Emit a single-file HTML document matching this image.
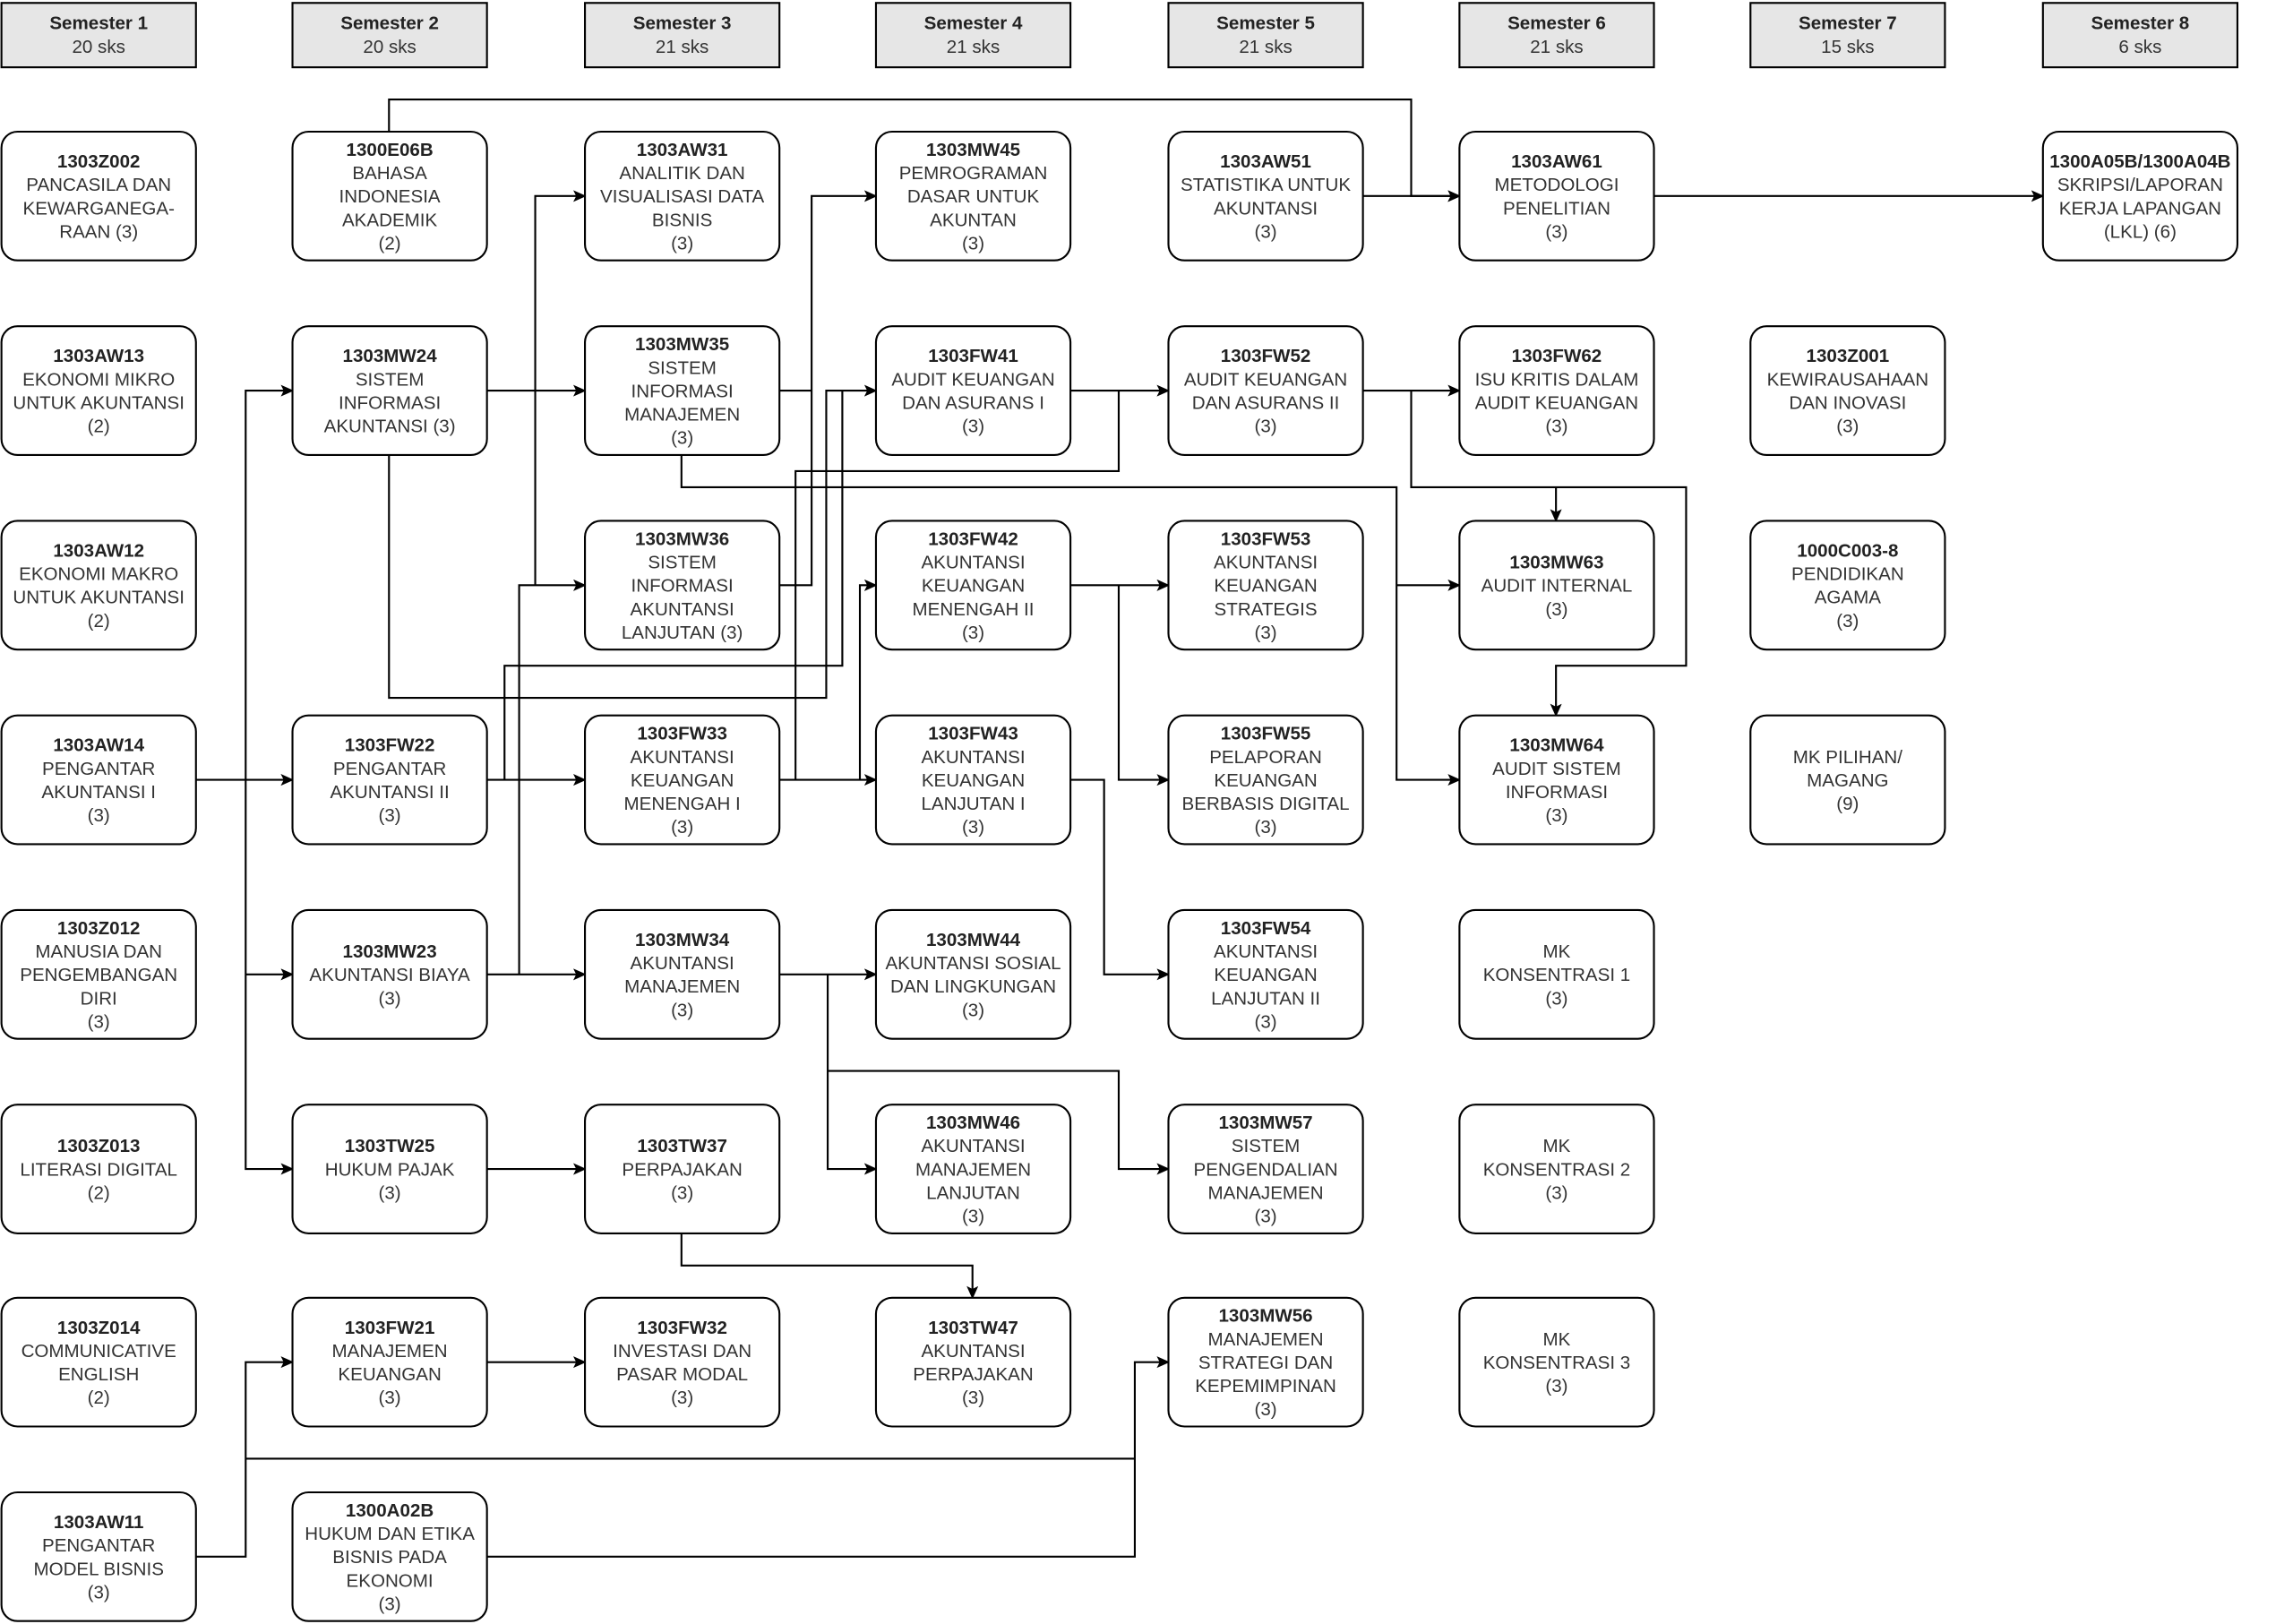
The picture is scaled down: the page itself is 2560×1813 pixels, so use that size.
<!DOCTYPE html>
<html><head><meta charset="utf-8"><style>
html,body{margin:0;padding:0;background:#fff}
svg{display:block}
text{font-family:"Liberation Sans",sans-serif;font-size:12.6px;fill:#333;text-anchor:middle}
.b{font-weight:bold;fill:#222}
.n{fill:#fff;stroke:#000;stroke-width:1.3}
.h{fill:#e6e6e6;stroke:#000;stroke-width:1.3}
.c{fill:none;stroke:#000;stroke-width:1.3}
</style></head><body>
<svg width="2560" height="1813" viewBox="0 0 1568 1110" preserveAspectRatio="none" xmlns="http://www.w3.org/2000/svg">
<defs><marker id="a" markerWidth="10" markerHeight="10" refX="8" refY="4" orient="auto" markerUnits="userSpaceOnUse"><path d="M0,0 L9,4 L0,8 L2,4 z" fill="#000"/></marker></defs>

<!-- headers -->
<g>
<rect class="h" x="1" y="2" width="133" height="44"/><text x="67.5" y="20" class="b">Semester 1</text><text x="67.5" y="36">20 sks</text>
<rect class="h" x="200" y="2" width="133" height="44"/><text x="266.5" y="20" class="b">Semester 2</text><text x="266.5" y="36">20 sks</text>
<rect class="h" x="400" y="2" width="133" height="44"/><text x="466.5" y="20" class="b">Semester 3</text><text x="466.5" y="36">21 sks</text>
<rect class="h" x="599" y="2" width="133" height="44"/><text x="665.5" y="20" class="b">Semester 4</text><text x="665.5" y="36">21 sks</text>
<rect class="h" x="799" y="2" width="133" height="44"/><text x="865.5" y="20" class="b">Semester 5</text><text x="865.5" y="36">21 sks</text>
<rect class="h" x="998" y="2" width="133" height="44"/><text x="1064.5" y="20" class="b">Semester 6</text><text x="1064.5" y="36">21 sks</text>
<rect class="h" x="1197" y="2" width="133" height="44"/><text x="1263.5" y="20" class="b">Semester 7</text><text x="1263.5" y="36">15 sks</text>
<rect class="h" x="1397" y="2" width="133" height="44"/><text x="1463.5" y="20" class="b">Semester 8</text><text x="1463.5" y="36">6 sks</text>
</g>

<!-- connectors -->
<g class="c">
<polyline points="266,90 266,68 965,68 965,134 998,134" marker-end="url(#a)"/>
<polyline points="932,134 998,134" marker-end="url(#a)"/>
<polyline points="1131,134 1397,134" marker-end="url(#a)"/>
<polyline points="134,533 200,533" marker-end="url(#a)"/>
<polyline points="168,533 168,267 200,267" marker-end="url(#a)"/>
<polyline points="168,533 168,799 200,799" marker-end="url(#a)"/>
<polyline points="168,666 200,666" marker-end="url(#a)"/>
<polyline points="333,267 400,267" marker-end="url(#a)"/>
<polyline points="266,311 266,477 565,477 565,267 599,267" marker-end="url(#a)"/>
<polyline points="333,533 400,533" marker-end="url(#a)"/>
<polyline points="345,533 345,455 576,455 576,267"/>
<polyline points="333,666 400,666" marker-end="url(#a)"/>
<polyline points="355,666 355,400 400,400" marker-end="url(#a)"/>
<polyline points="366,400 366,134 400,134" marker-end="url(#a)"/>
<polyline points="533,267 555,267"/>
<polyline points="533,400 555,400 555,134 599,134" marker-end="url(#a)"/>
<polyline points="466,311 466,333 955,333 955,533 998,533" marker-end="url(#a)"/>
<polyline points="955,400 998,400" marker-end="url(#a)"/>
<polyline points="533,533 599,533" marker-end="url(#a)"/>
<polyline points="544,533 544,322 765,322 765,267"/>
<polyline points="588,533 588,400 599,400" marker-end="url(#a)"/>
<polyline points="732,267 799,267" marker-end="url(#a)"/>
<polyline points="732,400 799,400" marker-end="url(#a)"/>
<polyline points="765,400 765,533 799,533" marker-end="url(#a)"/>
<polyline points="732,533 755,533 755,666 799,666" marker-end="url(#a)"/>
<polyline points="932,267 998,267" marker-end="url(#a)"/>
<polyline points="965,267 965,333 1153,333 1153,455 1064,455 1064,489" marker-end="url(#a)"/>
<polyline points="1064,333 1064,356" marker-end="url(#a)"/>
<polyline points="533,666 599,666" marker-end="url(#a)"/>
<polyline points="566,666 566,799 599,799" marker-end="url(#a)"/>
<polyline points="566,732 765,732 765,799 799,799" marker-end="url(#a)"/>
<polyline points="333,799 400,799" marker-end="url(#a)"/>
<polyline points="466,843 466,865 665,865 665,887" marker-end="url(#a)"/>
<polyline points="333,931 400,931" marker-end="url(#a)"/>
<polyline points="134,1064 168,1064 168,931 200,931" marker-end="url(#a)"/>
<polyline points="168,997 776,997 776,931 799,931" marker-end="url(#a)"/>
<polyline points="333,1064 776,1064 776,997"/>
</g>

<!-- nodes -->
<g>
<!-- col 1 -->
<rect class="n" x="1" y="90" width="133" height="88" rx="11"/><text x="67.5" y="114.5"><tspan class="b">1303Z002</tspan><tspan x="67.5" dy="16">PANCASILA DAN</tspan><tspan x="67.5" dy="16">KEWARGANEGA-</tspan><tspan x="67.5" dy="16">RAAN (3)</tspan></text>
<rect class="n" x="1" y="223" width="133" height="88" rx="11"/><text x="67.5" y="247.5"><tspan class="b">1303AW13</tspan><tspan x="67.5" dy="16">EKONOMI MIKRO</tspan><tspan x="67.5" dy="16">UNTUK AKUNTANSI</tspan><tspan x="67.5" dy="16">(2)</tspan></text>
<rect class="n" x="1" y="356" width="133" height="88" rx="11"/><text x="67.5" y="380.5"><tspan class="b">1303AW12</tspan><tspan x="67.5" dy="16">EKONOMI MAKRO</tspan><tspan x="67.5" dy="16">UNTUK AKUNTANSI</tspan><tspan x="67.5" dy="16">(2)</tspan></text>
<rect class="n" x="1" y="489" width="133" height="88" rx="11"/><text x="67.5" y="513.5"><tspan class="b">1303AW14</tspan><tspan x="67.5" dy="16">PENGANTAR</tspan><tspan x="67.5" dy="16">AKUNTANSI I</tspan><tspan x="67.5" dy="16">(3)</tspan></text>
<rect class="n" x="1" y="622" width="133" height="88" rx="11"/><text x="67.5" y="638.5"><tspan class="b">1303Z012</tspan><tspan x="67.5" dy="16">MANUSIA DAN</tspan><tspan x="67.5" dy="16">PENGEMBANGAN</tspan><tspan x="67.5" dy="16">DIRI</tspan><tspan x="67.5" dy="16">(3)</tspan></text>
<rect class="n" x="1" y="755" width="133" height="88" rx="11"/><text x="67.5" y="787.5"><tspan class="b">1303Z013</tspan><tspan x="67.5" dy="16">LITERASI DIGITAL</tspan><tspan x="67.5" dy="16">(2)</tspan></text>
<rect class="n" x="1" y="887" width="133" height="88" rx="11"/><text x="67.5" y="911.5"><tspan class="b">1303Z014</tspan><tspan x="67.5" dy="16">COMMUNICATIVE</tspan><tspan x="67.5" dy="16">ENGLISH</tspan><tspan x="67.5" dy="16">(2)</tspan></text>
<rect class="n" x="1" y="1020" width="133" height="88" rx="11"/><text x="67.5" y="1044.5"><tspan class="b">1303AW11</tspan><tspan x="67.5" dy="16">PENGANTAR</tspan><tspan x="67.5" dy="16">MODEL BISNIS</tspan><tspan x="67.5" dy="16">(3)</tspan></text>
<!-- col 2 -->
<rect class="n" x="200" y="90" width="133" height="88" rx="11"/><text x="266.5" y="106.5"><tspan class="b">1300E06B</tspan><tspan x="266.5" dy="16">BAHASA</tspan><tspan x="266.5" dy="16">INDONESIA</tspan><tspan x="266.5" dy="16">AKADEMIK</tspan><tspan x="266.5" dy="16">(2)</tspan></text>
<rect class="n" x="200" y="223" width="133" height="88" rx="11"/><text x="266.5" y="247.5"><tspan class="b">1303MW24</tspan><tspan x="266.5" dy="16">SISTEM</tspan><tspan x="266.5" dy="16">INFORMASI</tspan><tspan x="266.5" dy="16">AKUNTANSI (3)</tspan></text>
<rect class="n" x="200" y="489" width="133" height="88" rx="11"/><text x="266.5" y="513.5"><tspan class="b">1303FW22</tspan><tspan x="266.5" dy="16">PENGANTAR</tspan><tspan x="266.5" dy="16">AKUNTANSI II</tspan><tspan x="266.5" dy="16">(3)</tspan></text>
<rect class="n" x="200" y="622" width="133" height="88" rx="11"/><text x="266.5" y="654.5"><tspan class="b">1303MW23</tspan><tspan x="266.5" dy="16">AKUNTANSI BIAYA</tspan><tspan x="266.5" dy="16">(3)</tspan></text>
<rect class="n" x="200" y="755" width="133" height="88" rx="11"/><text x="266.5" y="787.5"><tspan class="b">1303TW25</tspan><tspan x="266.5" dy="16">HUKUM PAJAK</tspan><tspan x="266.5" dy="16">(3)</tspan></text>
<rect class="n" x="200" y="887" width="133" height="88" rx="11"/><text x="266.5" y="911.5"><tspan class="b">1303FW21</tspan><tspan x="266.5" dy="16">MANAJEMEN</tspan><tspan x="266.5" dy="16">KEUANGAN</tspan><tspan x="266.5" dy="16">(3)</tspan></text>
<rect class="n" x="200" y="1020" width="133" height="88" rx="11"/><text x="266.5" y="1036.5"><tspan class="b">1300A02B</tspan><tspan x="266.5" dy="16">HUKUM DAN ETIKA</tspan><tspan x="266.5" dy="16">BISNIS PADA</tspan><tspan x="266.5" dy="16">EKONOMI</tspan><tspan x="266.5" dy="16">(3)</tspan></text>
<!-- col 3 -->
<rect class="n" x="400" y="90" width="133" height="88" rx="11"/><text x="466.5" y="106.5"><tspan class="b">1303AW31</tspan><tspan x="466.5" dy="16">ANALITIK DAN</tspan><tspan x="466.5" dy="16">VISUALISASI DATA</tspan><tspan x="466.5" dy="16">BISNIS</tspan><tspan x="466.5" dy="16">(3)</tspan></text>
<rect class="n" x="400" y="223" width="133" height="88" rx="11"/><text x="466.5" y="239.5"><tspan class="b">1303MW35</tspan><tspan x="466.5" dy="16">SISTEM</tspan><tspan x="466.5" dy="16">INFORMASI</tspan><tspan x="466.5" dy="16">MANAJEMEN</tspan><tspan x="466.5" dy="16">(3)</tspan></text>
<rect class="n" x="400" y="356" width="133" height="88" rx="11"/><text x="466.5" y="372.5"><tspan class="b">1303MW36</tspan><tspan x="466.5" dy="16">SISTEM</tspan><tspan x="466.5" dy="16">INFORMASI</tspan><tspan x="466.5" dy="16">AKUNTANSI</tspan><tspan x="466.5" dy="16">LANJUTAN (3)</tspan></text>
<rect class="n" x="400" y="489" width="133" height="88" rx="11"/><text x="466.5" y="505.5"><tspan class="b">1303FW33</tspan><tspan x="466.5" dy="16">AKUNTANSI</tspan><tspan x="466.5" dy="16">KEUANGAN</tspan><tspan x="466.5" dy="16">MENENGAH I</tspan><tspan x="466.5" dy="16">(3)</tspan></text>
<rect class="n" x="400" y="622" width="133" height="88" rx="11"/><text x="466.5" y="646.5"><tspan class="b">1303MW34</tspan><tspan x="466.5" dy="16">AKUNTANSI</tspan><tspan x="466.5" dy="16">MANAJEMEN</tspan><tspan x="466.5" dy="16">(3)</tspan></text>
<rect class="n" x="400" y="755" width="133" height="88" rx="11"/><text x="466.5" y="787.5"><tspan class="b">1303TW37</tspan><tspan x="466.5" dy="16">PERPAJAKAN</tspan><tspan x="466.5" dy="16">(3)</tspan></text>
<rect class="n" x="400" y="887" width="133" height="88" rx="11"/><text x="466.5" y="911.5"><tspan class="b">1303FW32</tspan><tspan x="466.5" dy="16">INVESTASI DAN</tspan><tspan x="466.5" dy="16">PASAR MODAL</tspan><tspan x="466.5" dy="16">(3)</tspan></text>
<!-- col 4 -->
<rect class="n" x="599" y="90" width="133" height="88" rx="11"/><text x="665.5" y="106.5"><tspan class="b">1303MW45</tspan><tspan x="665.5" dy="16">PEMROGRAMAN</tspan><tspan x="665.5" dy="16">DASAR UNTUK</tspan><tspan x="665.5" dy="16">AKUNTAN</tspan><tspan x="665.5" dy="16">(3)</tspan></text>
<rect class="n" x="599" y="223" width="133" height="88" rx="11"/><text x="665.5" y="247.5"><tspan class="b">1303FW41</tspan><tspan x="665.5" dy="16">AUDIT KEUANGAN</tspan><tspan x="665.5" dy="16">DAN ASURANS I</tspan><tspan x="665.5" dy="16">(3)</tspan></text>
<rect class="n" x="599" y="356" width="133" height="88" rx="11"/><text x="665.5" y="372.5"><tspan class="b">1303FW42</tspan><tspan x="665.5" dy="16">AKUNTANSI</tspan><tspan x="665.5" dy="16">KEUANGAN</tspan><tspan x="665.5" dy="16">MENENGAH II</tspan><tspan x="665.5" dy="16">(3)</tspan></text>
<rect class="n" x="599" y="489" width="133" height="88" rx="11"/><text x="665.5" y="505.5"><tspan class="b">1303FW43</tspan><tspan x="665.5" dy="16">AKUNTANSI</tspan><tspan x="665.5" dy="16">KEUANGAN</tspan><tspan x="665.5" dy="16">LANJUTAN I</tspan><tspan x="665.5" dy="16">(3)</tspan></text>
<rect class="n" x="599" y="622" width="133" height="88" rx="11"/><text x="665.5" y="646.5"><tspan class="b">1303MW44</tspan><tspan x="665.5" dy="16">AKUNTANSI SOSIAL</tspan><tspan x="665.5" dy="16">DAN LINGKUNGAN</tspan><tspan x="665.5" dy="16">(3)</tspan></text>
<rect class="n" x="599" y="755" width="133" height="88" rx="11"/><text x="665.5" y="771.5"><tspan class="b">1303MW46</tspan><tspan x="665.5" dy="16">AKUNTANSI</tspan><tspan x="665.5" dy="16">MANAJEMEN</tspan><tspan x="665.5" dy="16">LANJUTAN</tspan><tspan x="665.5" dy="16">(3)</tspan></text>
<rect class="n" x="599" y="887" width="133" height="88" rx="11"/><text x="665.5" y="911.5"><tspan class="b">1303TW47</tspan><tspan x="665.5" dy="16">AKUNTANSI</tspan><tspan x="665.5" dy="16">PERPAJAKAN</tspan><tspan x="665.5" dy="16">(3)</tspan></text>
<!-- col 5 -->
<rect class="n" x="799" y="90" width="133" height="88" rx="11"/><text x="865.5" y="114.5"><tspan class="b">1303AW51</tspan><tspan x="865.5" dy="16">STATISTIKA UNTUK</tspan><tspan x="865.5" dy="16">AKUNTANSI</tspan><tspan x="865.5" dy="16">(3)</tspan></text>
<rect class="n" x="799" y="223" width="133" height="88" rx="11"/><text x="865.5" y="247.5"><tspan class="b">1303FW52</tspan><tspan x="865.5" dy="16">AUDIT KEUANGAN</tspan><tspan x="865.5" dy="16">DAN ASURANS II</tspan><tspan x="865.5" dy="16">(3)</tspan></text>
<rect class="n" x="799" y="356" width="133" height="88" rx="11"/><text x="865.5" y="372.5"><tspan class="b">1303FW53</tspan><tspan x="865.5" dy="16">AKUNTANSI</tspan><tspan x="865.5" dy="16">KEUANGAN</tspan><tspan x="865.5" dy="16">STRATEGIS</tspan><tspan x="865.5" dy="16">(3)</tspan></text>
<rect class="n" x="799" y="489" width="133" height="88" rx="11"/><text x="865.5" y="505.5"><tspan class="b">1303FW55</tspan><tspan x="865.5" dy="16">PELAPORAN</tspan><tspan x="865.5" dy="16">KEUANGAN</tspan><tspan x="865.5" dy="16">BERBASIS DIGITAL</tspan><tspan x="865.5" dy="16">(3)</tspan></text>
<rect class="n" x="799" y="622" width="133" height="88" rx="11"/><text x="865.5" y="638.5"><tspan class="b">1303FW54</tspan><tspan x="865.5" dy="16">AKUNTANSI</tspan><tspan x="865.5" dy="16">KEUANGAN</tspan><tspan x="865.5" dy="16">LANJUTAN II</tspan><tspan x="865.5" dy="16">(3)</tspan></text>
<rect class="n" x="799" y="755" width="133" height="88" rx="11"/><text x="865.5" y="771.5"><tspan class="b">1303MW57</tspan><tspan x="865.5" dy="16">SISTEM</tspan><tspan x="865.5" dy="16">PENGENDALIAN</tspan><tspan x="865.5" dy="16">MANAJEMEN</tspan><tspan x="865.5" dy="16">(3)</tspan></text>
<rect class="n" x="799" y="887" width="133" height="88" rx="11"/><text x="865.5" y="903.5"><tspan class="b">1303MW56</tspan><tspan x="865.5" dy="16">MANAJEMEN</tspan><tspan x="865.5" dy="16">STRATEGI DAN</tspan><tspan x="865.5" dy="16">KEPEMIMPINAN</tspan><tspan x="865.5" dy="16">(3)</tspan></text>
<!-- col 6 -->
<rect class="n" x="998" y="90" width="133" height="88" rx="11"/><text x="1064.5" y="114.5"><tspan class="b">1303AW61</tspan><tspan x="1064.5" dy="16">METODOLOGI</tspan><tspan x="1064.5" dy="16">PENELITIAN</tspan><tspan x="1064.5" dy="16">(3)</tspan></text>
<rect class="n" x="998" y="223" width="133" height="88" rx="11"/><text x="1064.5" y="247.5"><tspan class="b">1303FW62</tspan><tspan x="1064.5" dy="16">ISU KRITIS DALAM</tspan><tspan x="1064.5" dy="16">AUDIT KEUANGAN</tspan><tspan x="1064.5" dy="16">(3)</tspan></text>
<rect class="n" x="998" y="356" width="133" height="88" rx="11"/><text x="1064.5" y="388.5"><tspan class="b">1303MW63</tspan><tspan x="1064.5" dy="16">AUDIT INTERNAL</tspan><tspan x="1064.5" dy="16">(3)</tspan></text>
<rect class="n" x="998" y="489" width="133" height="88" rx="11"/><text x="1064.5" y="513.5"><tspan class="b">1303MW64</tspan><tspan x="1064.5" dy="16">AUDIT SISTEM</tspan><tspan x="1064.5" dy="16">INFORMASI</tspan><tspan x="1064.5" dy="16">(3)</tspan></text>
<rect class="n" x="998" y="622" width="133" height="88" rx="11"/><text x="1064.5" y="654.5"><tspan>MK</tspan><tspan x="1064.5" dy="16">KONSENTRASI 1</tspan><tspan x="1064.5" dy="16">(3)</tspan></text>
<rect class="n" x="998" y="755" width="133" height="88" rx="11"/><text x="1064.5" y="787.5"><tspan>MK</tspan><tspan x="1064.5" dy="16">KONSENTRASI 2</tspan><tspan x="1064.5" dy="16">(3)</tspan></text>
<rect class="n" x="998" y="887" width="133" height="88" rx="11"/><text x="1064.5" y="919.5"><tspan>MK</tspan><tspan x="1064.5" dy="16">KONSENTRASI 3</tspan><tspan x="1064.5" dy="16">(3)</tspan></text>
<!-- col 7 -->
<rect class="n" x="1197" y="223" width="133" height="88" rx="11"/><text x="1263.5" y="247.5"><tspan class="b">1303Z001</tspan><tspan x="1263.5" dy="16">KEWIRAUSAHAAN</tspan><tspan x="1263.5" dy="16">DAN INOVASI</tspan><tspan x="1263.5" dy="16">(3)</tspan></text>
<rect class="n" x="1197" y="356" width="133" height="88" rx="11"/><text x="1263.5" y="380.5"><tspan class="b">1000C003-8</tspan><tspan x="1263.5" dy="16">PENDIDIKAN</tspan><tspan x="1263.5" dy="16">AGAMA</tspan><tspan x="1263.5" dy="16">(3)</tspan></text>
<rect class="n" x="1197" y="489" width="133" height="88" rx="11"/><text x="1263.5" y="521.5"><tspan>MK PILIHAN/</tspan><tspan x="1263.5" dy="16">MAGANG</tspan><tspan x="1263.5" dy="16">(9)</tspan></text>
<!-- col 8 -->
<rect class="n" x="1397" y="90" width="133" height="88" rx="11"/><text x="1463.5" y="114.5"><tspan class="b">1300A05B/1300A04B</tspan><tspan x="1463.5" dy="16">SKRIPSI/LAPORAN</tspan><tspan x="1463.5" dy="16">KERJA LAPANGAN</tspan><tspan x="1463.5" dy="16">(LKL) (6)</tspan></text>
</g>
</svg>
</body></html>
